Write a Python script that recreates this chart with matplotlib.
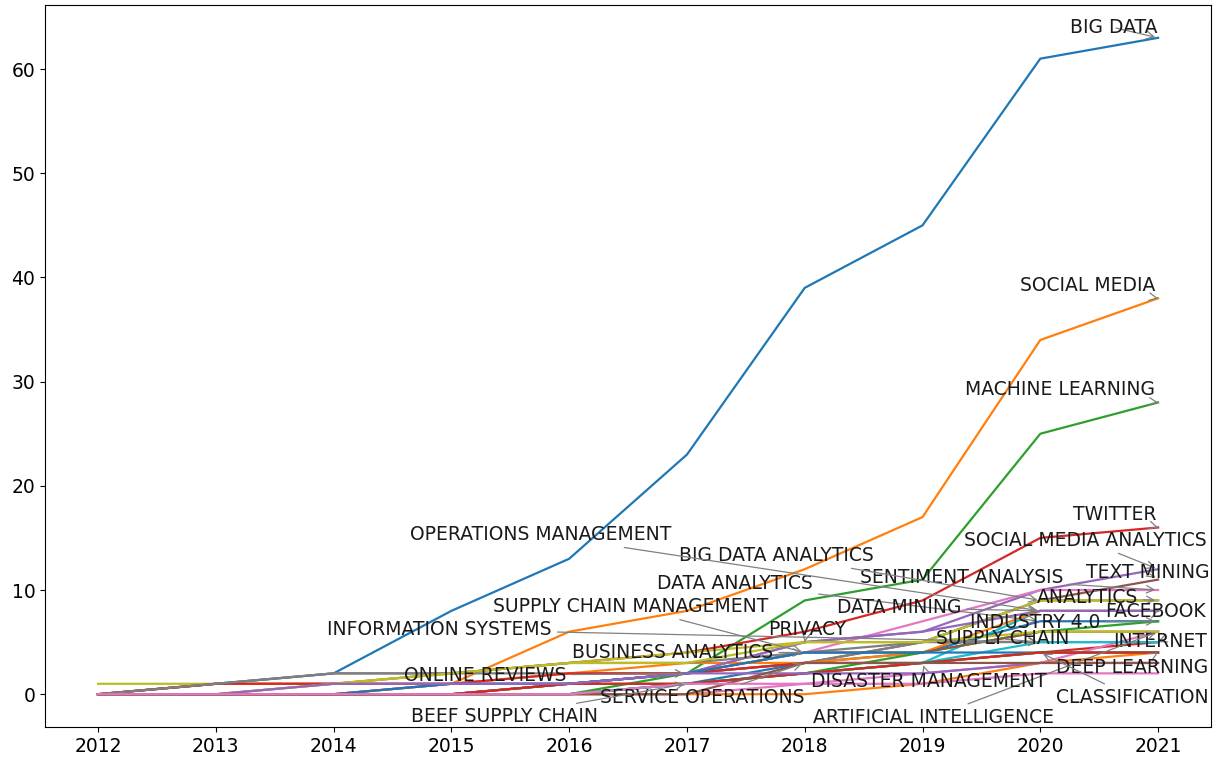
import numpy as np
import matplotlib.pyplot as plt

years = [2012, 2013, 2014, 2015, 2016, 2017, 2018, 2019, 2020, 2021]

# cumulative keyword counts per year
keywords = [
    "BIG DATA", "SOCIAL MEDIA", "MACHINE LEARNING", "TWITTER",
    "SOCIAL MEDIA ANALYTICS", "TEXT MINING", "SENTIMENT ANALYSIS",
    "BIG DATA ANALYTICS", "ANALYTICS", "FACEBOOK", "DATA ANALYTICS",
    "OPERATIONS MANAGEMENT", "INDUSTRY 4.0", "INTERNET", "DATA MINING",
    "SUPPLY CHAIN MANAGEMENT", "ARTIFICIAL INTELLIGENCE", "INFORMATION SYSTEMS",
    "PRIVACY", "SUPPLY CHAIN", "BUSINESS ANALYTICS", "DEEP LEARNING",
    "CLASSIFICATION", "DISASTER MANAGEMENT", "ONLINE REVIEWS",
    "SERVICE OPERATIONS", "BEEF SUPPLY CHAIN",
]
counts = [
    [0, 1, 2, 8, 13, 23, 39, 45, 61, 63],
    [0, 0, 0, 1, 6, 8, 12, 17, 34, 38],
    [0, 0, 0, 0, 0, 2, 9, 11, 25, 28],
    [0, 1, 1, 2, 3, 4, 6, 9, 15, 16],
    [0, 0, 1, 1, 1, 2, 5, 6, 10, 12],
    [0, 0, 0, 0, 1, 2, 3, 5, 9, 11],
    [0, 0, 0, 0, 1, 2, 4, 7, 10, 10],
    [0, 1, 2, 2, 2, 2, 3, 5, 9, 9],
    [1, 1, 1, 2, 3, 4, 5, 5, 9, 9],
    [0, 0, 0, 0, 0, 1, 2, 3, 8, 8],
    [0, 0, 0, 0, 0, 1, 3, 4, 7, 7],
    [0, 0, 0, 1, 2, 3, 3, 4, 8, 8],
    [0, 0, 0, 0, 0, 1, 2, 4, 6, 7],
    [0, 1, 1, 1, 2, 2, 3, 3, 4, 5],
    [0, 0, 0, 1, 1, 2, 5, 6, 8, 8],
    [0, 0, 0, 0, 1, 2, 4, 4, 6, 6],
    [0, 0, 0, 0, 0, 0, 1, 2, 3, 6],
    [0, 1, 2, 2, 3, 3, 4, 5, 5, 5],
    [0, 0, 1, 2, 3, 3, 5, 5, 6, 6],
    [0, 0, 0, 0, 0, 1, 2, 3, 5, 5],
    [0, 0, 0, 1, 1, 2, 4, 4, 4, 4],
    [0, 0, 0, 0, 0, 0, 0, 1, 3, 4],
    [0, 0, 0, 0, 1, 1, 2, 3, 4, 4],
    [0, 0, 0, 0, 1, 1, 2, 3, 4, 4],
    [0, 0, 1, 1, 1, 2, 2, 2, 3, 3],
    [0, 0, 0, 0, 0, 0, 3, 3, 3, 3],
    [0, 0, 0, 0, 0, 1, 1, 1, 2, 2],
]
# year each label points at
label_year = [2021, 2021, 2021, 2021, 2021, 2021, 2021, 2020, 2021, 2021,
              2020, 2020, 2021, 2021, 2020, 2018, 2021, 2020, 2018, 2020,
              2018, 2021, 2020, 2019, 2017, 2018, 2017]
# label text positions (after manual repelling)
label_pos = [
    (2020.62, 64.0), (2020.40, 39.2), (2020.17, 29.2), (2020.63, 17.2),
    (2020.38, 14.8), (2020.91, 11.7), (2019.33, 11.2), (2017.76, 13.3),
    (2020.40, 9.3), (2020.98, 7.9), (2017.41, 10.6), (2015.76, 15.3),
    (2019.96, 6.9), (2021.02, 5.1), (2018.80, 8.3), (2016.52, 8.4),
    (2019.09, -2.2), (2014.90, 6.2), (2018.02, 6.2), (2019.68, 5.3),
    (2016.88, 4.0), (2020.78, 2.6), (2020.78, -0.3), (2019.05, 1.25),
    (2015.29, 1.8), (2017.13, -0.3), (2015.45, -2.1),
]

fig = plt.figure(figsize=(12.14, 7.57), dpi=100)
ax = fig.add_axes([0.0371, 0.0396, 0.9605, 0.9538])

for name, vals in zip(keywords, counts):
    ax.plot(years, vals, label=name, lw=1.6)

for name, vals, yr, (tx, ty) in zip(keywords, counts, label_year, label_pos):
    target = (yr, vals[years.index(yr)])
    ax.annotate(name, xy=target, xytext=(tx, ty), ha='center', va='center',
                fontsize=13.5, color='#1a1a1a',
                arrowprops=dict(arrowstyle='->', color='gray', lw=0.9))

ax.tick_params(labelsize=13.5)
ax.set_xticks(years)

plt.savefig('out.png', dpi=100)
